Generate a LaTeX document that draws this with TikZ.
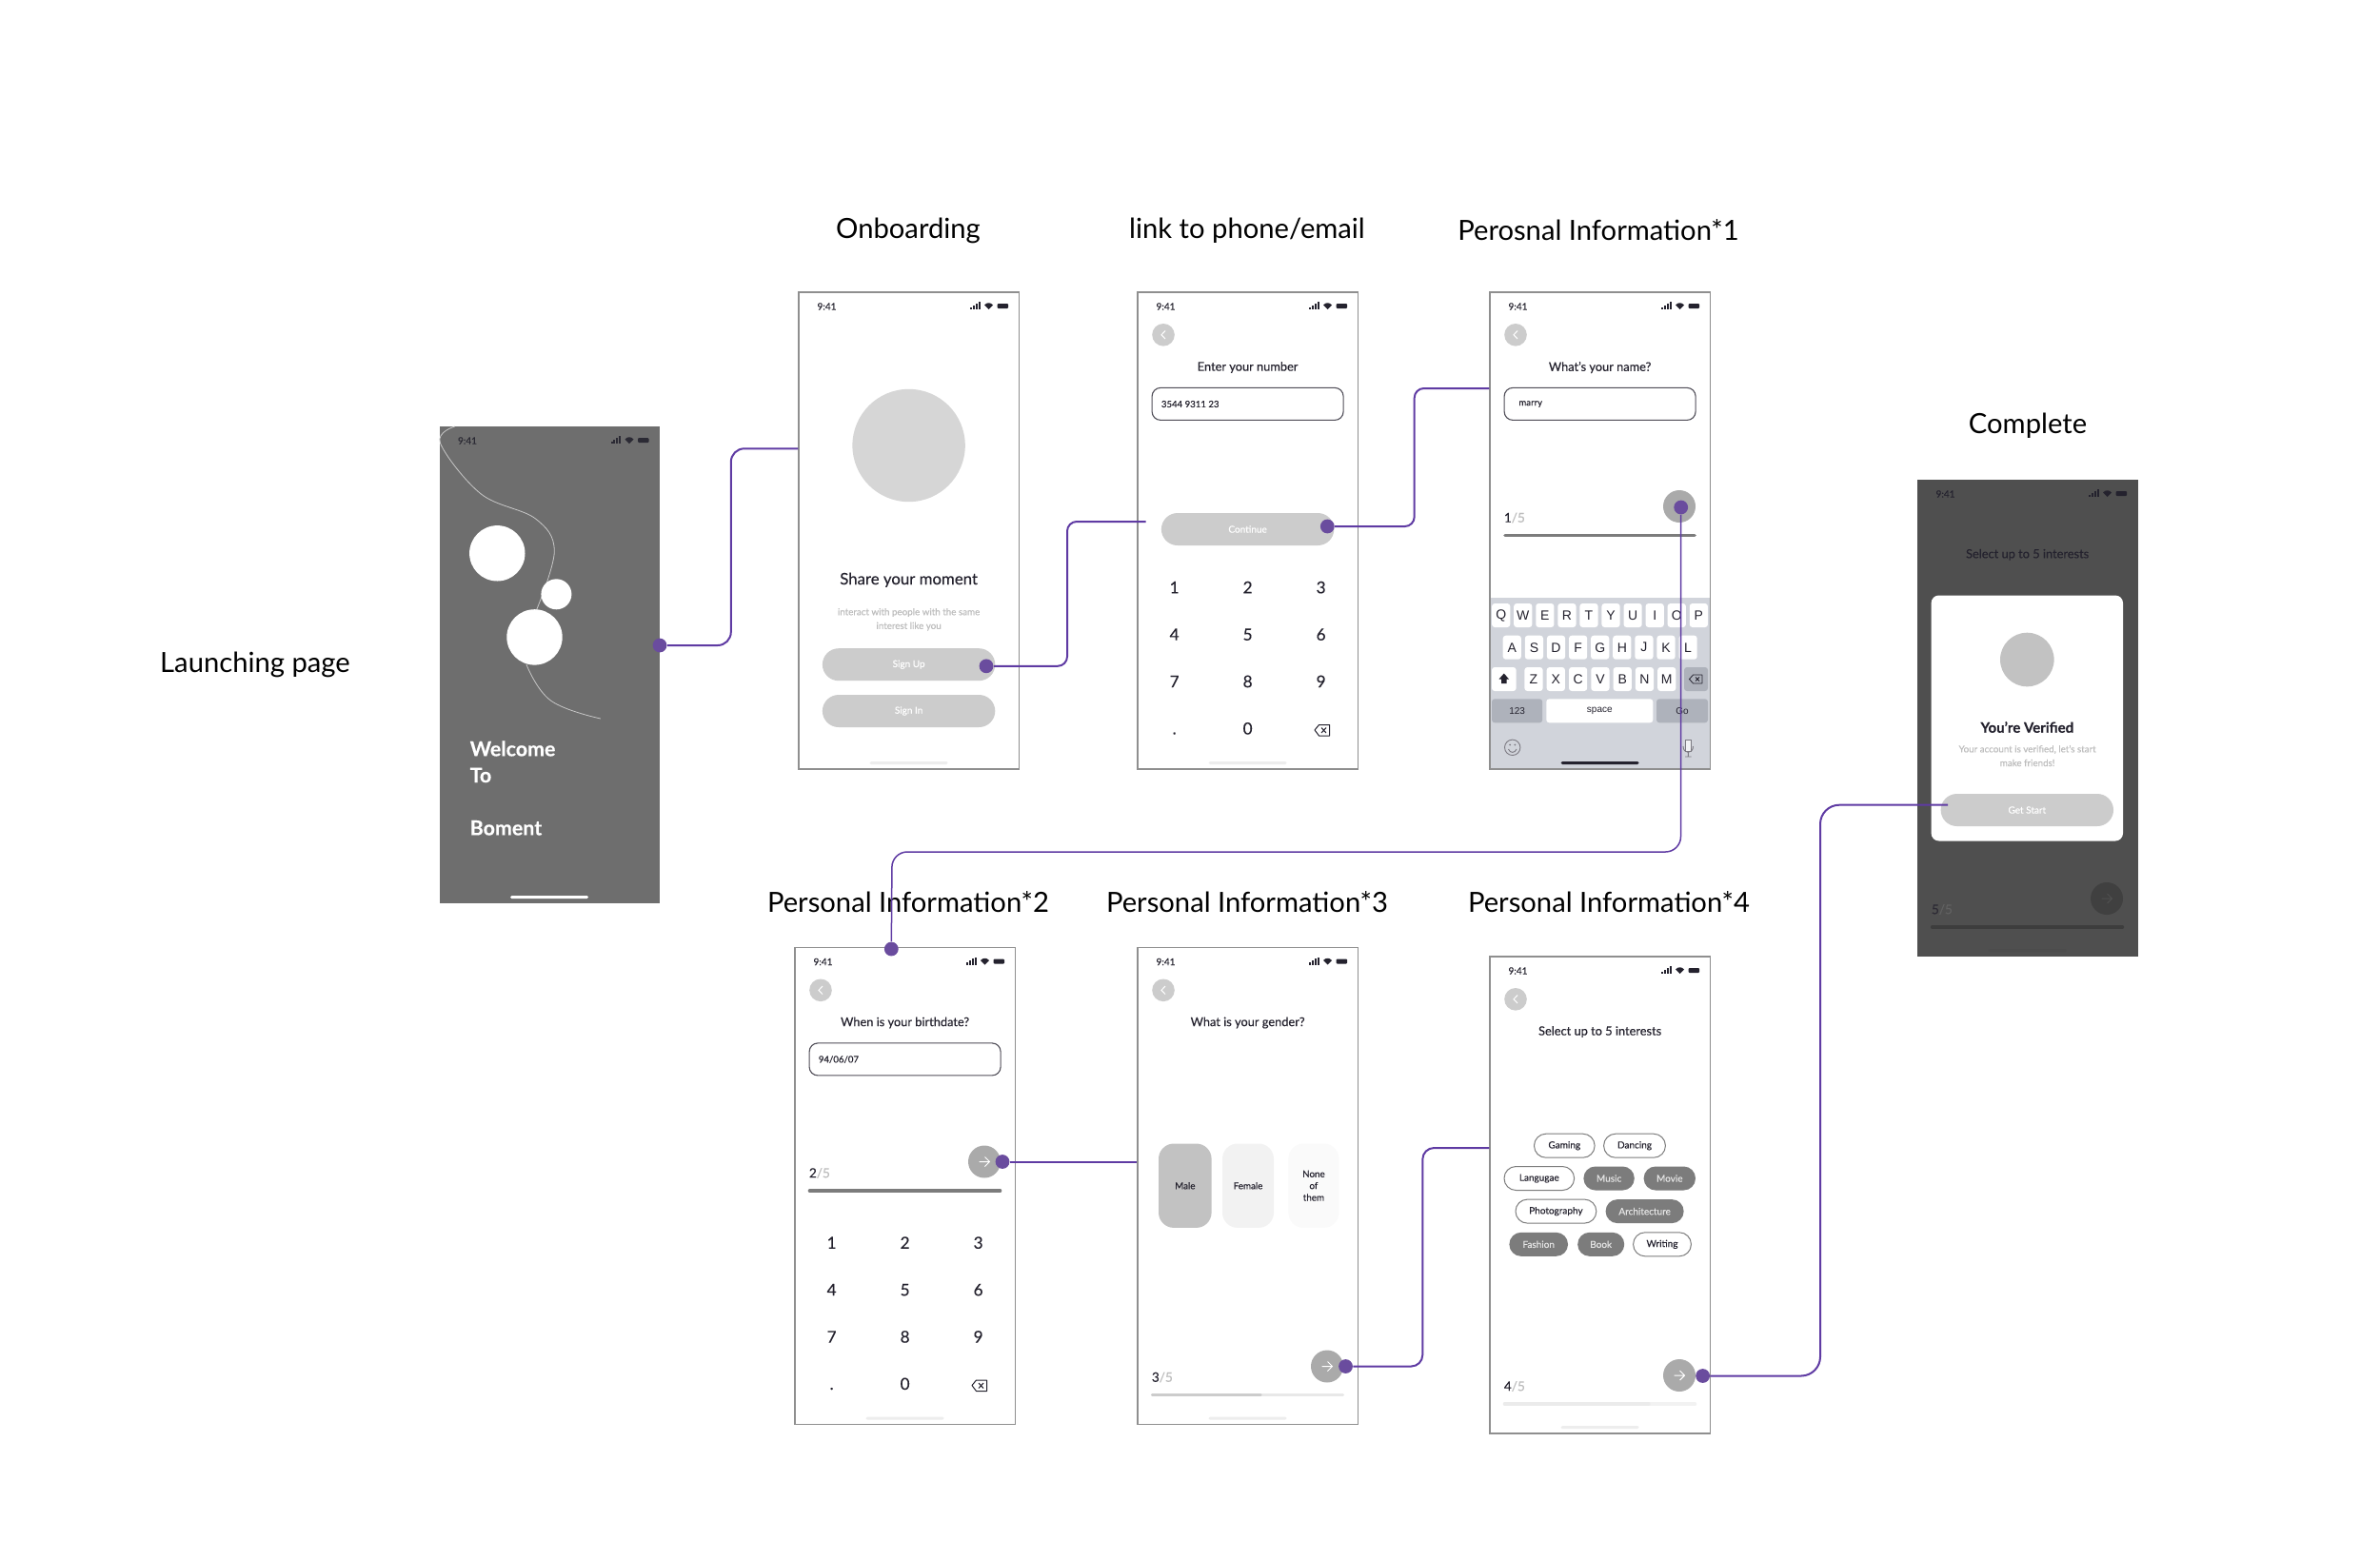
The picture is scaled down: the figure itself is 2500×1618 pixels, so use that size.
\documentclass[tikz,border=0pt]{standalone}
\usepackage{fontspec}
\setmainfont[FakeBold=0.25]{Lato}
\newfontfamily\headfont{Lato}
\newfontfamily\keysfont{Liberation Sans}
\definecolor{linkpurple}{HTML}{5F3BA3}
\definecolor{dotpurple}{HTML}{6A4C9E}
\definecolor{edgegray}{HTML}{8F8F8F}
\definecolor{ink}{HTML}{24222E}
\definecolor{mute}{HTML}{BDBDBD}
\definecolor{btngray}{HTML}{CCCCCC}
\definecolor{nextgray}{HTML}{AAAAAA}
\definecolor{launchgray}{HTML}{6E6E6E}
\definecolor{dimgray}{HTML}{4F4F4F}
\definecolor{kbgray}{HTML}{D1D4DB}
\definecolor{kbdark}{HTML}{AEB2BB}
\definecolor{chipgray}{HTML}{7C7C7C}
\newcommand{\pxfont}[2]{\fontsize{#1}{#2}\selectfont}
\newcommand{\statusbar}[2]{%
  \node[txt, font=\pxfont{5}{6}, text=#2] (#1time) at (29.5,15) {9:41};
  \foreach \n in {0,1,2,3} \fill[#2] ({180+\n*2.9},18) rectangle ({182+\n*2.9},{15.5-\n*1.8});
  \fill[#2] (199.5,18) -- (195,13.5) .. controls (197.5,10.5) and (201.5,10.5) .. (204,13.5) -- cycle;
  \fill[#2, rounded corners=.5pt] (208.6,12) rectangle (220,17);
}
\newcommand{\backbtn}[1]{%
  \node[roundbtn, fill=btngray, minimum size=11.8pt] (#1back) at (27,44.8) {};
  \draw[white, line width=.5pt] (29,40.5) -- (25,44.8) -- (29,49);
}
\newcommand{\homebar}[2]{\node[homeline, fill=#2] (#1home) at (115.6,494.5) {};}
\newcommand{\inputbox}[3]{%
  \node[field] (#1field) at (115.6,117.4) {};
  \node[txt, font=\pxfont{4.8}{6}, anchor=west] (#1value) at (#3,117.5) {#2};
}
\newcommand{\keypad}[1]{%
  \foreach \d [count=\n from 0] in {1,2,3,4,5,6,7,8,9,.,0}
    \node[txt, font=\pxfont{8.6}{10}, anchor=base] (#1key\n) at ({38.6+mod(\n,3)*77},{316.3+int(\n/3)*49.4}) {\d};
  \draw[ink, line width=.5pt, line join=round] (186,460) -- (190.5,454.5) -- (201.5,454.5) -- (201.5,466) -- (190.5,466) -- cycle;
  \draw[ink, line width=.5pt] (193,457.5) -- (198,463) (198,457.5) -- (193,463);
}
\newcommand{\nextbtn}[3]{\node[roundbtn, fill=#3, minimum size=17pt] (#1next) at (199,#2) {};}
\newcommand{\nextarrow}[2]{%
  \draw[#2, line width=.5pt] (193.5,#1) -- (204.5,#1) ({199.5},{#1-5}) -- (204.5,#1) -- ({199.5},{#1+5});
}
\newcommand{\progress}[5]{%
  \node[txt, font=\pxfont{6.8}{8}, anchor=west, text=#3] (#1count) at (14.5,{#2-18.5}) {#4\textcolor{#5}{/5}};
}
\newcommand{\sublines}[3]{\node[txt, font=\pxfont{4.9}{7.3}, text=mute, align=center] (#1) at (115.6,#2) {#3};}
\begin{document}
\begin{tikzpicture}[x=0.5pt, y=-0.5pt]
  \tikzset{txt/.style={inner sep=0pt, text=ink},
    heading/.style={inner sep=0pt, text=black, font=\headfont\pxfont{14.6}{17}},
    screen/.style={draw=edgegray, line width=.7pt, fill=white, inner sep=0pt, minimum width=115.75pt, minimum height=250.5pt},
    roundbtn/.style={circle, inner sep=0pt},
    homeline/.style={rounded corners=.7pt, inner sep=0pt, minimum width=41pt, minimum height=1.5pt},
    field/.style={draw=ink!80, line width=.55pt, rounded corners=4.5pt, inner sep=0pt, minimum width=100.5pt, minimum height=17pt},
    pill/.style={fill=btngray, rounded corners=8.5pt, inner sep=0pt, minimum width=90.7pt, minimum height=17pt, text=white, font=\pxfont{5}{6}},
    ttl/.style={txt, font=\pxfont{6.4}{8}},
    kbkey/.style={fill=white, rounded corners=1.5pt, inner sep=0pt, minimum width=9.6pt, minimum height=12.5pt, text=ink, font=\keysfont\pxfont{7}{8}},
    card/.style={rounded corners=8pt, inner sep=0pt, minimum height=44.2pt, text=ink, font=\pxfont{4.9}{6.2}, align=center},
    chipoff/.style={draw=chipgray, line width=.5pt, fill=white, rounded corners=6.2pt, inner sep=0pt, minimum height=12.5pt, text=ink, font=\pxfont{5}{6}},
    chipon/.style={fill=chipgray, rounded corners=6.2pt, inner sep=0pt, minimum height=12.5pt, text=white!90!black, font=\pxfont{5}{6}},
    dot/.style={circle, fill=dotpurple, inner sep=0pt, minimum size=7.4pt},
    link/.style={draw=linkpurple, line width=1pt}}
  \useasboundingbox (0,-1) rectangle (2500,1617);

  % titles
  \node[heading] (launchtitle) at (268,697) {Launching page};
  \node[heading] (onboardtitle) at (954,241) {Onboarding};
  \node[heading] (linktitle) at (1310,241) {link to phone/email};
  \node[heading] (infoonetitle) at (1679,241) {Perosnal Information*1};
  \node[heading] (completetitle) at (2130,446) {Complete};
  \node[heading] (infotwotitle) at (954,947) {Personal Information*2};
  \node[heading] (infothreetitle) at (1310,947) {Personal Information*3};
  \node[heading] (infofourtitle) at (1690,947) {Personal Information*4};

  % launching page
  \begin{scope}[shift={(461.5,447)}]
    \node[screen, draw=none, fill=launchgray] (launch) at (115.75,250.5) {};
    \statusbar{launch}{ink!90!launchgray}
    \draw[white!78!black, line width=.4pt] plot[smooth, tension=.6] coordinates {(16.3,0) (1,17.6) (43.7,70.9) (100.8,96.8) (120.8,131) (102,193)};
    \draw[white!78!black, line width=.4pt] plot[smooth, tension=.7] coordinates {(91.4,250) (117,288) (169.4,307)};
    \node[roundbtn, fill=white, minimum size=29.2pt] (ballone) at (60.8,133.3) {};
    \node[roundbtn, fill=white, minimum size=16pt] (balltwo) at (122.9,176.3) {};
    \node[roundbtn, fill=white, minimum size=29.2pt] (ballthree) at (100,221.4) {};
    \node[txt, text=white, font=\bfseries\pxfont{10.7}{12}, anchor=west] (welcome) at (31.8,338.5) {Welcome};
    \node[txt, text=white, font=\bfseries\pxfont{10.7}{12}, anchor=west] (welcometo) at (31.8,366.4) {To};
    \node[txt, text=white, font=\bfseries\pxfont{10.7}{12}, anchor=west] (boment) at (31.8,421.8) {Boment};
    \homebar{launch}{white}
  \end{scope}

  % onboarding
  \begin{scope}[shift={(839,306)}]
    \node[screen] (onboard) at (115.75,250.5) {};
    \statusbar{onboard}{ink}
    \node[roundbtn, fill=white!84!black, minimum size=59.2pt] (onboardpic) at (115.6,161) {};
    \node[txt, font=\pxfont{8.4}{9}] (onboardtext) at (115.6,302.3) {Share your moment};
    \sublines{onboardsub}{343.8}{interact with people with the same\\interest like you}
    \node[pill] (signup) at (115.6,391.2) {Sign Up};
    \node[pill] (signin) at (115.6,440) {Sign In};
    \homebar{onboard}{black!7}
  \end{scope}

  % phone or email
  \begin{scope}[shift={(1195,306)}]
    \node[screen] (phone) at (115.75,250.5) {};
    \statusbar{phone}{ink}
    \backbtn{phone}
    \node[ttl] (phonetext) at (115.6,79) {Enter your number};
    \inputbox{phone}{3544 9311 23}{24.5}
    \node[pill] (continue) at (115.6,249) {Continue};
    \keypad{phone}
    \homebar{phone}{black!7}
  \end{scope}

  % first question, name
  \begin{scope}[shift={(1565,306)}]
    \node[screen] (infoone) at (115.75,250.5) {};
    \fill[kbgray] (0.3,321) rectangle (231.2,500.7);
    \draw[edgegray, line width=.7pt] (0,0) rectangle (231.5,501);
    \statusbar{infoone}{ink}
    \backbtn{infoone}
    \node[ttl] (infoonetext) at (115.6,79) {What's your name?};
    \inputbox{infoone}{marry}{30}
    \nextbtn{infoone}{225}{nextgray}
    \progress{infoone}{255.5}{ink}{1}{mute}
    \draw[chipgray, line width=1.8pt, line cap=round] (16,255.5) -- (215,255.5);
    \foreach \k [count=\n from 0] in {Q,W,E,R,T,Y,U,I,O,P}
      \node[kbkey] (key\k) at ({11.7+\n*23.07},339.5) {\k};
    \foreach \k [count=\n from 0] in {A,S,D,F,G,H,J,K,L}
      \node[kbkey] (key\k) at ({23.3+\n*23.1},373.2) {\k};
    \foreach \k [count=\n from 0] in {Z,X,C,V,B,N,M}
      \node[kbkey] (key\k) at ({46+\n*23.3},406.5) {\k};
    \node[kbkey, minimum width=12.8pt] (keyshift) at (14.8,406.5) {};
    \fill[ink] (14.8,400.5) -- (20,406.5) -- (17.5,406.5) -- (17.5,411) -- (12,411) -- (12,406.5) -- (9.5,406.5) -- cycle;
    \node[kbkey, fill=kbdark, minimum width=12.5pt] (keyback) at (216.5,406.5) {};
    \draw[ink, line width=.4pt, line join=round] (209.5,406.5) -- (213.5,402) -- (223,402) -- (223,411) -- (213.5,411) -- cycle;
    \draw[ink, line width=.4pt] (216,404.5) -- (220,408.5) (220,404.5) -- (216,408.5);
    \node[kbkey, fill=kbdark, minimum width=26.6pt, font=\keysfont\pxfont{5}{6}] (key123) at (28.6,439.8) {123};
    \node[kbkey, minimum width=56pt, font=\keysfont\pxfont{5}{6}] (keyspace) at (115.3,439.8) {space};
    \node[kbkey, fill=kbdark, minimum width=27pt, font=\keysfont\pxfont{5}{6}] (keygo) at (202,439.8) {Go};
    \node[roundbtn, draw=ink!60, line width=.45pt, minimum size=8.2pt] (keyemoji) at (23.7,478.3) {};
    \fill[ink!60] (21,475.5) circle (1) (26.4,475.5) circle (1);
    \draw[ink!60, line width=.45pt] (19.5,480) .. controls (21,484.5) and (26.4,484.5) .. (28,480);
    \draw[ink!60, line width=.45pt, fill=white!70!kbgray] (205.5,470) rectangle (211,482);
    \draw[ink!60, line width=.45pt] (203,477) .. controls (203,485.5) and (213.5,485.5) .. (213.5,477) (208.3,483.5) -- (208.3,488) (205,488) -- (211.5,488);
    \homebar{infoone}{ink}
  \end{scope}

  % second question, birthdate
  \begin{scope}[shift={(835,994.5)}]
    \node[screen] (infotwo) at (115.75,250.5) {};
    \statusbar{infotwo}{ink}
    \backbtn{infotwo}
    \node[ttl] (infotwotext) at (115.6,79) {When is your birthdate?};
    \inputbox{infotwo}{94/06/07}{24.5}
    \nextbtn{infotwo}{225}{nextgray}
    \nextarrow{225}{white}
    \progress{infotwo}{255.5}{ink}{2}{mute}
    \draw[chipgray, line width=1.8pt, line cap=round] (15.5,255.5) -- (215.5,255.5);
    \keypad{infotwo}
    \homebar{infotwo}{black!7}
  \end{scope}

  % third question, gender
  \begin{scope}[shift={(1195,994.5)}]
    \node[screen] (infothree) at (115.75,250.5) {};
    \statusbar{infothree}{ink}
    \backbtn{infothree}
    \node[ttl] (infothreetext) at (115.6,79) {What is your gender?};
    \node[card, fill=black!24, minimum width=27.8pt] (male) at (49.8,250.2) {Male};
    \node[card, fill=black!5, minimum width=27pt] (female) at (116,250.2) {Female};
    \node[card, fill=black!2, minimum width=26.5pt] (noneofthem) at (184.9,250.2) {None\\of\\them};
    \nextbtn{infothree}{440}{nextgray}
    \nextarrow{440}{white}
    \progress{infothree}{470}{ink}{3}{mute}
    \draw[black!9, line width=1.7pt, line cap=round] (15.5,470) -- (215.5,470);
    \draw[btngray, line width=1.7pt, line cap=round] (15.5,470) -- (129,470);
    \homebar{infothree}{black!7}
  \end{scope}

  % fourth question, interests
  \begin{scope}[shift={(1565,1004)}]
    \node[screen] (infofour) at (115.75,250.5) {};
    \statusbar{infofour}{ink}
    \backbtn{infofour}
    \node[ttl] (infofourtext) at (115.6,79) {Select up to 5 interests};
    \node[chipoff, minimum width=31.8pt] (gaming) at (78.3,198.7) {Gaming};
    \node[chipoff, minimum width=32.4pt] (dancing) at (152,198.7) {Dancing};
    \node[chipoff, minimum width=36.8pt] (langugae) at (51.8,233) {Langugae};
    \node[chipon, minimum width=26.7pt] (music) at (125.1,233) {Music};
    \node[chipon, minimum width=27.2pt] (movie) at (188.8,233) {Movie};
    \node[chipoff, minimum width=42.4pt] (photography) at (69.4,267.6) {Photography};
    \node[chipon, minimum width=41pt] (architecture) at (162.6,267.6) {Architecture};
    \node[chipon, minimum width=30.8pt] (fashion) at (51.2,302.3) {Fashion};
    \node[chipon, minimum width=24.5pt] (book) at (116.7,302.3) {Book};
    \node[chipoff, minimum width=30.4pt] (writing) at (181,302.3) {Writing};
    \nextbtn{infofour}{440}{nextgray}
    \nextarrow{440}{white}
    \progress{infofour}{470}{ink}{4}{mute}
    \draw[black!5, line width=1.7pt, line cap=round] (15.5,470) -- (215.5,470);
    \draw[black!8, line width=1.7pt, line cap=round] (15.5,470) -- (167,470);
    \homebar{infofour}{black!7}
  \end{scope}

  % complete
  \begin{scope}[shift={(2014,503)}]
    \node[screen, draw=none, fill=dimgray] (complete) at (115.75,250.5) {};
    \statusbar{complete}{ink}
    \node[ttl, text=ink] (completetext) at (115.6,78.7) {Select up to 5 interests};
    \node[fill=white, rounded corners=4pt, inner sep=0pt, minimum width=100.7pt, minimum height=129pt] (verified) at (115.3,250.5) {};
    \node[roundbtn, fill=black!24, minimum size=28.3pt] (verifiedpic) at (115.3,189) {};
    \node[txt, font=\bfseries\pxfont{7.5}{9}] (verifiedtext) at (115.3,260) {You’re Verified};
    \sublines{verifiedsub}{290}{Your account is verified, let’s start\\make friends!}
    \node[pill] (getstart) at (115.3,347) {Get Start};
    \nextbtn{complete}{440}{black!75}
    \nextarrow{440}{dimgray}
    \progress{complete}{470}{ink!80!dimgray}{5}{black!62}
    \draw[black!76, line width=1.7pt, line cap=round] (15.5,470) -- (215.5,470);
    \homebar{complete}{black!70}
  \end{scope}

  % connectors
  \node[dot] (launchdot) at (693,677) {};
  \node[dot] (signupdot) at (1036,698.8) {};
  \node[dot] (continuedot) at (1394.3,552) {};
  \node[dot] (infoonedot) at (1765.7,532) {};
  \node[dot] (infotwoin) at (936.3,996) {};
  \node[dot] (infotwodot) at (1053,1219.5) {};
  \node[dot] (infothreedot) at (1413.5,1434.5) {};
  \node[dot] (infofourdot) at (1788.6,1444.5) {};
  \coordinate (phonein) at (1203.7,547);
  \coordinate (getstartin) at (2046,844.7);
  \draw[link, rounded corners=7pt] (launchdot) -- (767.8,677) -- (767.8,470.3) -- (onboard.west |- 0,470.3);
  \draw[link, rounded corners=5pt] (signupdot) -- (1121,698.8) -- (1121,547) -- (phonein);
  \draw[link, rounded corners=5pt] (continuedot) -- (1485.7,552) -- (1485.7,407) -- (infoone.west |- 0,407);
  \draw[link, line width=.75pt, rounded corners=8pt] (infoonedot) -- (1765.5,894) -- (937,894) -- (infotwoin);
  \draw[link] (infotwodot) -- (infothree.west |- infotwodot);
  \draw[link, rounded corners=6pt] (infothreedot) -- (1494.3,1434.5) -- (1494.3,1205) -- (infofour.west |- 0,1205);
  \draw[link, rounded corners=10pt] (infofourdot) -- (1912,1444.5) -- (1912,844.7) -- (getstartin);
\end{tikzpicture}
\end{document}
